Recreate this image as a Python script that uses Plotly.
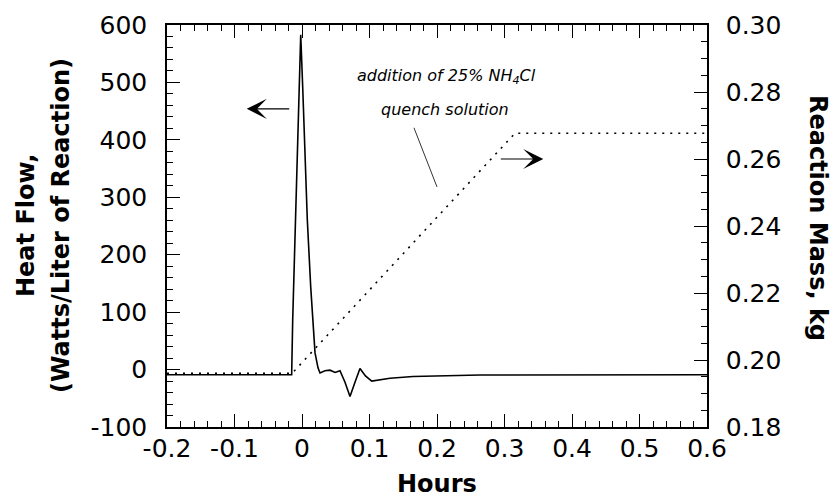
import plotly.graph_objects as go

# ---- data ----
hours = [-0.2, -0.0153, -0.0138, -0.0099, -0.0059, -0.0034, -0.0019, 0.001, 0.0044,
         0.0079, 0.0129, 0.0193, 0.0237, 0.0267, 0.034, 0.0415, 0.049, 0.0563, 0.0637,
         0.0711, 0.0785, 0.0859, 0.094, 0.1033, 0.1304, 0.1644, 0.2637, 0.6]
heat_flow = [-9, -9, 86, 260, 435, 551, 583, 493, 377,
             260, 144, 29, 3, -6, -2, -1, -5, -2, -22,
             -47, -22, 2, -11, -20, -15, -12, -9.4, -9]

mass_hours = [-0.2, -0.0148, 0.3156, 0.6]
reaction_mass = [0.196, 0.196, 0.2677, 0.2677]

x_ticks = [-0.2, -0.1, 0, 0.1, 0.2, 0.3, 0.4, 0.5, 0.6]
x_ticktext = ["-0.2", "-0.1", "0", "0.1", "0.2", "0.3", "0.4", "0.5", "0.6"]
y_ticks = [-100, 0, 100, 200, 300, 400, 500, 600]
y_ticktext = ["-100", "0", "100", "200", "300", "400", "500", "600"]
y2_ticks = [0.18, 0.20, 0.22, 0.24, 0.26, 0.28, 0.30]
y2_ticktext = ["0.18", "0.20", "0.22", "0.24", "0.26", "0.28", "0.30"]

FONT = "DejaVu Sans"

fig = go.Figure()
fig.add_trace(go.Scatter(x=hours, y=heat_flow, mode="lines",
                         line=dict(color="black", width=1.6), yaxis="y"))
fig.add_trace(go.Scatter(x=mass_hours, y=reaction_mass, mode="lines",
                         line=dict(color="black", width=1.6, dash="2px,6px"), yaxis="y2"))

axis_common = dict(showgrid=False, zeroline=False, showline=True, linecolor="black",
                   linewidth=1.5, ticks="inside", tickcolor="black", tickwidth=1.2,
                   ticklen=13, tickfont=dict(family=FONT, size=25, color="black"))

fig.update_layout(
    width=833, height=499,
    margin=dict(l=167, r=126, t=25, b=72),
    paper_bgcolor="white", plot_bgcolor="white",
    showlegend=False,
    xaxis=dict(range=[-0.2, 0.6], tickmode="array", tickvals=x_ticks, ticktext=x_ticktext,
               mirror="ticks", ticklabelstandoff=-2,
               minor=dict(tick0=-0.2, dtick=0.02, ticks="inside", ticklen=6,
                          tickcolor="black", tickwidth=1), **axis_common),
    yaxis=dict(range=[-100, 600], tickmode="array", tickvals=y_ticks, ticktext=y_ticktext,
               ticklabelstandoff=13,
               minor=dict(tick0=-100, dtick=20, ticks="inside", ticklen=6,
                          tickcolor="black", tickwidth=1), **axis_common),
    yaxis2=dict(range=[0.18, 0.30], overlaying="y", side="right", tickmode="array",
                tickvals=y2_ticks, ticktext=y2_ticktext, ticklabelstandoff=12,
                minor=dict(tick0=0.18, dtick=0.005, ticks="inside", ticklen=6,
                           tickcolor="black", tickwidth=1), **axis_common),
)

title_font = dict(family=FONT, size=24, color="black")
ann = [
    dict(text="<b>Hours</b>", xref="paper", yref="paper", x=0.5, y=0, yshift=-57,
         xanchor="center", yanchor="middle", showarrow=False, font=title_font),
    dict(text="<b>Heat Flow,</b>", xref="paper", yref="paper", x=0, xshift=-141, y=0.5,
         xanchor="center", yanchor="middle", textangle=-90, showarrow=False, font=title_font),
    dict(text="<b>(Watts/Liter of Reaction)</b>", xref="paper", yref="paper", x=0, xshift=-106,
         y=0.5, xanchor="center", yanchor="middle", textangle=-90, showarrow=False,
         font=title_font),
    dict(text="<b>Reaction Mass, kg</b>", xref="paper", yref="paper", x=1, xshift=111,
         y=0.52, xanchor="center", yanchor="middle", textangle=90, showarrow=False,
         font=title_font),
    dict(text="<i>addition of 25% NH<sub>4</sub>Cl</i>", xref="x", yref="y", x=0.214, y=510,
         xanchor="center", yanchor="middle", showarrow=False,
         font=dict(family=FONT, size=16, color="black")),
    dict(text="<i>quench solution</i>", xref="x", yref="y", x=0.212, y=452,
         xanchor="center", yanchor="middle", showarrow=False,
         font=dict(family=FONT, size=16, color="black")),
    # arrows
    dict(x=-0.0819, y=454, ax=-0.0167, ay=454, xref="x", yref="y", axref="x", ayref="y",
         text="", showarrow=True, arrowhead=3, arrowsize=2.8, arrowwidth=1.2,
         arrowcolor="black"),
    dict(x=0.3575, y=0.26, ax=0.2923, ay=0.26, xref="x", yref="y2", axref="x", ayref="y2",
         text="", showarrow=True, arrowhead=3, arrowsize=2.8, arrowwidth=1.2,
         arrowcolor="black"),
]
fig.update_layout(annotations=ann)

fig.add_shape(type="line", xref="x", yref="y", x0=0.1659, y0=421, x1=0.2, y1=318,
              line=dict(color="black", width=0.8))

fig.write_html("out.html", config={"displayModeBar": False},
               post_script="document.body.style.margin='0';document.body.style.overflow='hidden';")
